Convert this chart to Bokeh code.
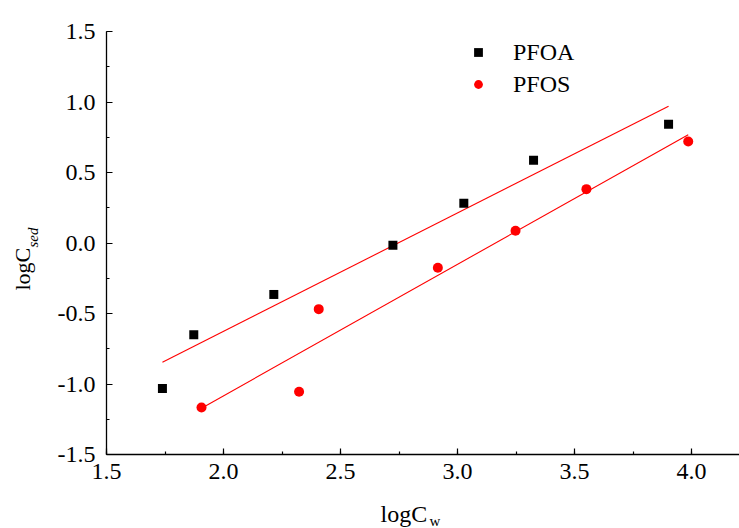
import numpy as np
from bokeh.plotting import figure
from bokeh.models import (Range1d, SingleIntervalTicker, Label, Legend, LegendItem,
                          LinearAxis, CustomJSTickFormatter)
from bokeh.embed import file_html
from bokeh.resources import INLINE

# Measured concentrations (log scale)
pfoa_logcw = [1.739, 1.873, 2.215, 2.724, 3.027, 3.325, 3.902]
pfoa_logcsed = [-1.032, -0.651, -0.365, -0.016, 0.282, 0.587, 0.843]
pfos_logcw = [1.906, 2.323, 2.407, 2.916, 3.248, 3.551, 3.986]
pfos_logcsed = [-1.167, -1.055, -0.469, -0.176, 0.087, 0.382, 0.720]
series_names = ["PFOA", "PFOS"]

FONT = "Times New Roman, Liberation Serif, serif"
W, H = 739, 528

# Axes box (pixels from top-left) and its data extent
AX_LEFT, AX_TOP, AX_BOTTOM = 106, 31, 454
X0, Y0, Y1 = 1.5, -1.5, 1.5
PX_PER_Y = (AX_BOTTOM - AX_TOP) / (Y1 - Y0)
PX_PER_X = 234.0


def dx(px):
    return X0 + (px - AX_LEFT) / PX_PER_X


def dy(py):
    return Y1 - (py - AX_TOP) / PX_PER_Y


# The plotting frame covers the whole canvas; axes sit at fixed locations
p = figure(width=W, height=H, output_backend="svg", toolbar_location=None,
           x_range=Range1d(dx(0), dx(W)), y_range=Range1d(dy(H), dy(0)),
           x_axis_location=None, y_axis_location=None,
           min_border=0)
p.outline_line_color = None
p.xgrid.visible = False
p.ygrid.visible = False
p.background_fill_color = "white"
p.border_fill_color = "white"

xaxis = LinearAxis(fixed_location=Y0, bounds=(X0, dx(W)))
yaxis = LinearAxis(fixed_location=X0, bounds=(Y0, Y1))
for ax in (xaxis, yaxis):
    ax.ticker = SingleIntervalTicker(interval=0.5, num_minor_ticks=2)
    ax.formatter = CustomJSTickFormatter(code="return tick.toFixed(1)")
    ax.major_tick_in = 6
    ax.major_tick_out = 0
    ax.minor_tick_in = 3
    ax.minor_tick_out = 0
    ax.axis_line_width = 1.3
    ax.major_tick_line_width = 1.2
    ax.minor_tick_line_width = 1.2
    ax.axis_line_color = "black"
    ax.major_tick_line_color = "black"
    ax.minor_tick_line_color = "black"
    ax.major_label_text_font = FONT
    ax.major_label_text_font_size = "24px"
    ax.major_label_text_color = "black"
    ax.axis_label = None
xaxis.major_label_standoff = 9
yaxis.major_label_standoff = 11
p.add_layout(xaxis, "below")
p.add_layout(yaxis, "left")


# Least-squares regression lines over each series' range
def fit_line(xs, ys):
    k, b = np.polyfit(xs, ys, 1)
    xe = np.array([min(xs), max(xs)])
    return xe, k * xe + b


for xs, ys in ((pfoa_logcw, pfoa_logcsed), (pfos_logcw, pfos_logcsed)):
    fx, fy = fit_line(xs, ys)
    p.line(fx, fy, line_color="red", line_width=1.1)

r_pfoa = p.scatter(pfoa_logcw, pfoa_logcsed, marker="square", size=9,
                   fill_color="black", line_color="black", line_width=0)
r_pfos = p.scatter(pfos_logcw, pfos_logcsed, marker="circle", size=10,
                   fill_color="red", line_color="red", line_width=0)

legend = Legend(items=[LegendItem(label=series_names[0], renderers=[r_pfoa]),
                       LegendItem(label=series_names[1], renderers=[r_pfos])],
                location=(467, 430),
                glyph_width=22, glyph_height=28, label_height=28,
                spacing=4, padding=0, margin=0, label_standoff=24,
                label_text_font=FONT, label_text_font_size="24px",
                label_text_color="black", border_line_alpha=0,
                background_fill_alpha=0)
p.add_layout(legend)

# Axis titles with subscripts
p.add_layout(Label(x=dx(380), y=dy(513), text="logC", text_font=FONT,
                   text_font_size="24px", text_baseline="middle",
                   text_align="left", text_color="black"))
p.add_layout(Label(x=dx(429), y=dy(520), text="w", text_font=FONT,
                   text_font_size="15px", text_baseline="middle",
                   text_align="left", text_color="black"))
p.add_layout(Label(x=dx(22), y=dy(290), text="logC", text_font=FONT,
                   text_font_size="22px", text_baseline="middle",
                   text_align="left", angle=np.pi / 2, text_color="black"))
p.add_layout(Label(x=dx(32), y=dy(247), text="sed", text_font=FONT,
                   text_font_size="15px", text_font_style="italic",
                   text_baseline="middle", text_align="left",
                   angle=np.pi / 2, text_color="black"))

open("out.html", "w").write(file_html(p, INLINE))
